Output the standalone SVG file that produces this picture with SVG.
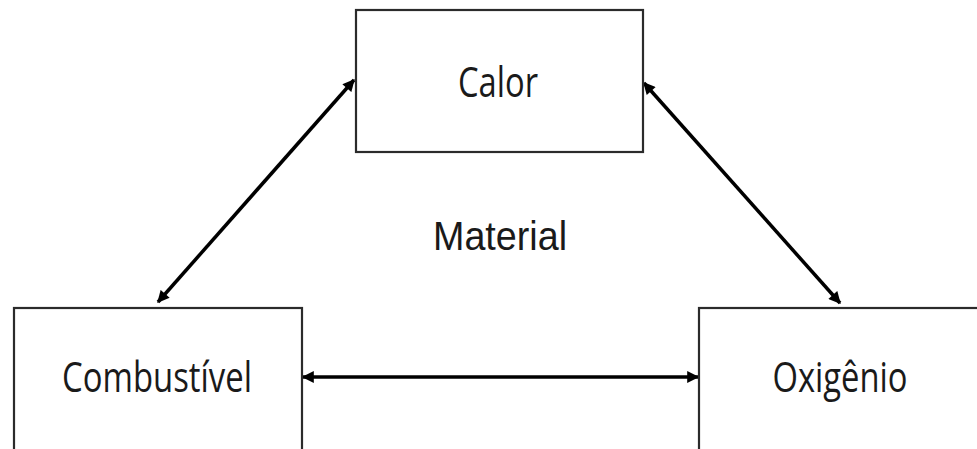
<svg xmlns="http://www.w3.org/2000/svg" width="977" height="449" viewBox="0 0 977 449">
<style>
.box{fill:#fff;stroke:#2b2b2b;stroke-width:2.2}
.lbl{font-family:"Open Sans","Noto Sans",sans-serif;font-size:42px;fill:#1a1a1a;text-anchor:middle}
.mat{font-family:"Liberation Sans",Arial,sans-serif;font-size:40px;fill:#1a1a1a}
.con{stroke:#000;stroke-width:3.5;fill:none;marker-start:url(#ah);marker-end:url(#ah)}
</style>
<defs>
<marker id="ah" viewBox="0 0 10 10" refX="9" refY="5" markerWidth="13" markerHeight="12" markerUnits="userSpaceOnUse" orient="auto-start-reverse">
<path d="M0,0 L10,5 L0,10 z" fill="#000"/>
</marker>
</defs>
<rect width="977" height="449" fill="#fff"/>
<g id="connectors">
<line class="con" x1="158" y1="302" x2="354" y2="80"/>
<line class="con" x1="644" y1="83" x2="840" y2="303"/>
<line class="con" x1="303" y1="377" x2="698" y2="377"/>
</g>
<g id="calor">
<rect class="box" x="356" y="10" width="287" height="142"/>
<text class="lbl" x="498" y="97" textLength="80" lengthAdjust="spacingAndGlyphs">Calor</text>
</g>
<g id="combustivel">
<rect class="box" x="14" y="308" width="288" height="160"/>
<text class="lbl" x="157" y="392" textLength="190" lengthAdjust="spacingAndGlyphs">Combustível</text>
</g>
<g id="oxigenio">
<rect class="box" x="699" y="308" width="300" height="160"/>
<text class="lbl" x="840" y="392" textLength="135" lengthAdjust="spacingAndGlyphs">Oxigênio</text>
</g>
<g id="material">
<text class="mat" x="433" y="250" textLength="134" lengthAdjust="spacingAndGlyphs">Material</text>
</g>
</svg>
